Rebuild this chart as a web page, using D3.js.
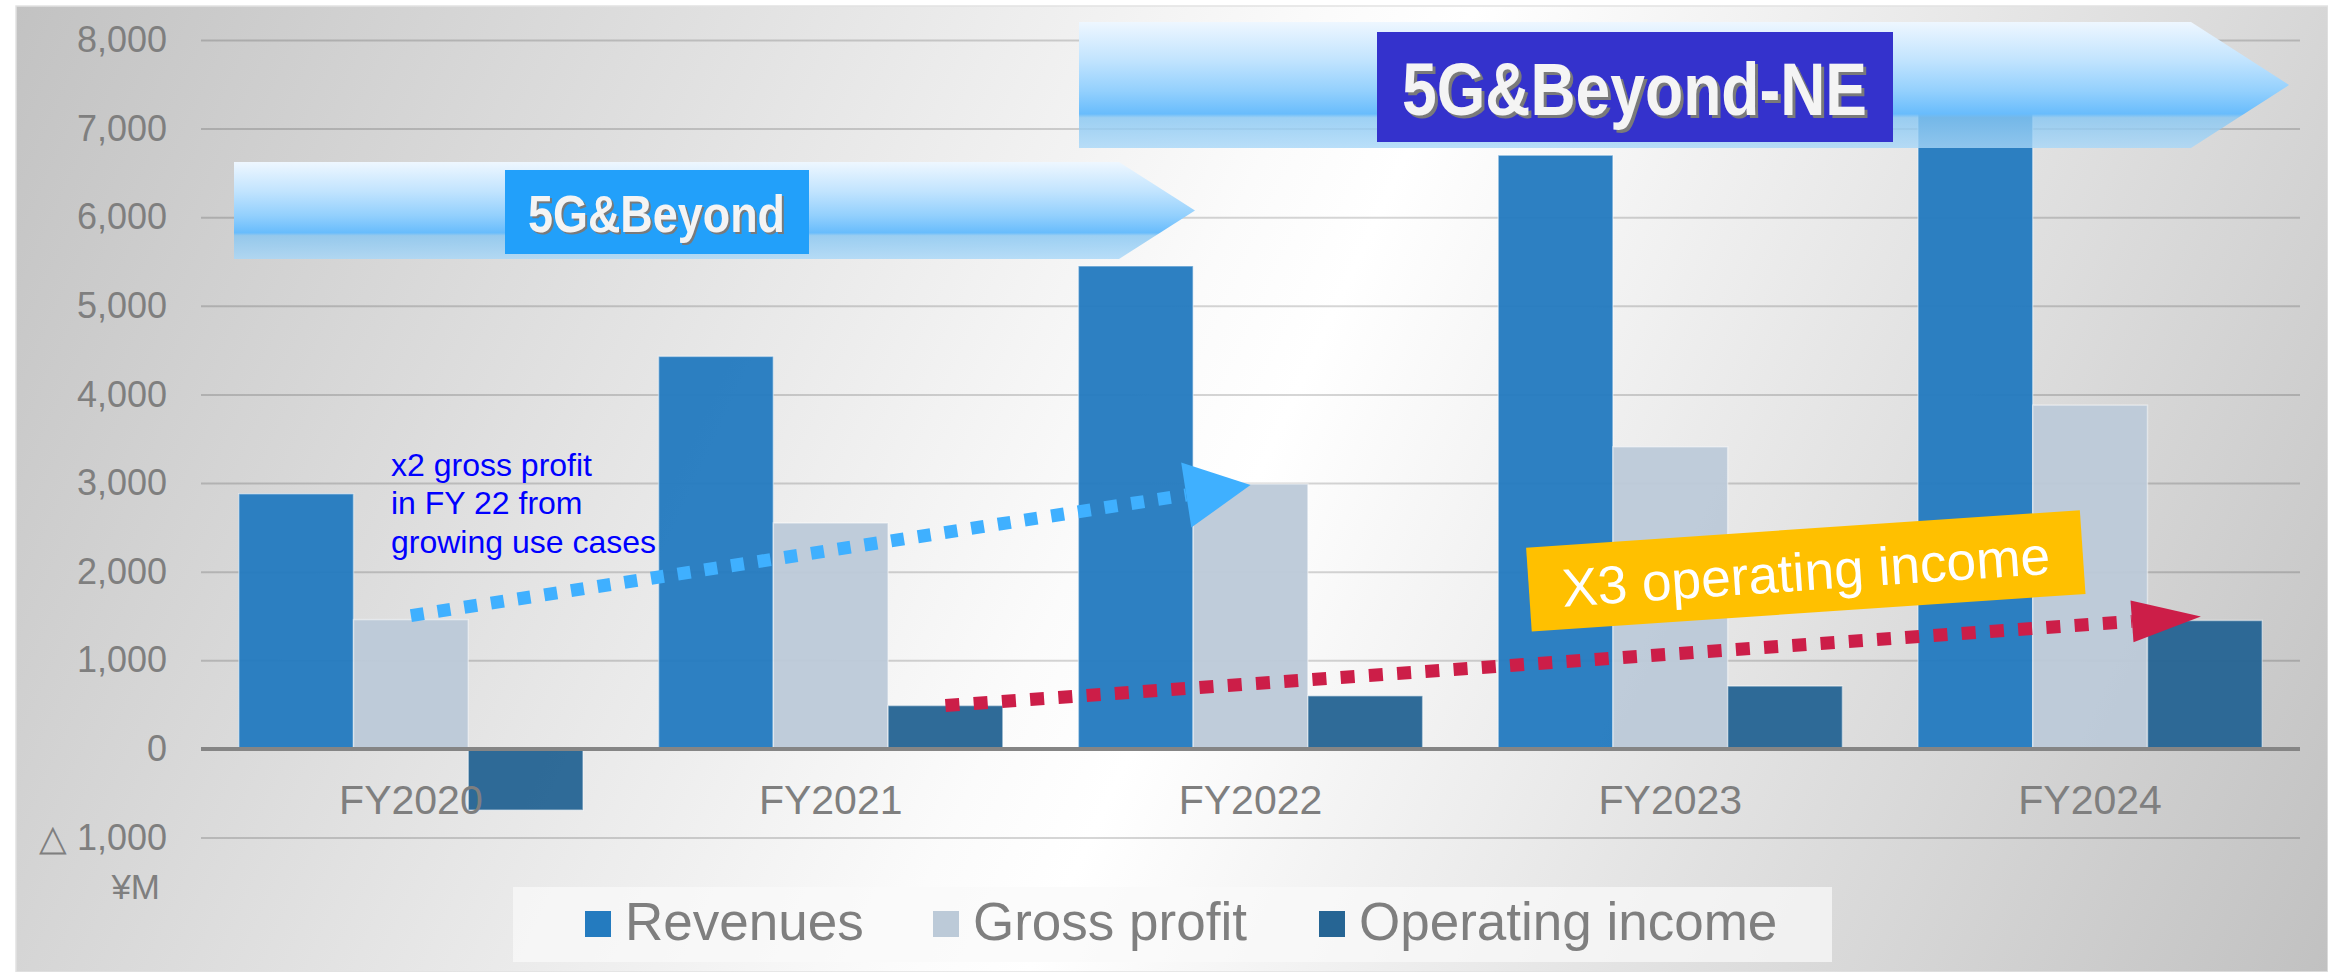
<!DOCTYPE html>
<html>
<head>
<meta charset="utf-8">
<script src="https://cdn.jsdelivr.net/npm/d3@7"></script>
<style>
  body { margin: 0; background: #fff; }
  svg { display: block; font-family: "Liberation Sans", Arial, sans-serif; }
</style>
</head>
<body>
<div id="chart"></div>
<script>
'use strict';

// values, in ¥M
var years = ["FY2020", "FY2021", "FY2022", "FY2023", "FY2024"];
var revenues = [2880, 4430, 5450, 6700, 7200];
var grossProfit = [1460, 2550, 2990, 3410, 3880];
var operatingIncome = [-690, 490, 600, 710, 1450];

var seriesNames = ["Revenues", "Gross profit", "Operating income"];
var seriesColors = ["#247bbf", "#bccad8", "#266594"];
var yTicks = [-1000, 0, 1000, 2000, 3000, 4000, 5000, 6000, 7000, 8000];

var width = 2328, height = 972;
var plotLeft = 201, plotRight = 2300;

var table = years.map(function(yr, i) {
    return { year: yr, values: [revenues[i], grossProfit[i], operatingIncome[i]] };
});

let svg = d3.select("#chart").append("svg")
    .attr("width", width)
    .attr("height", height);
let defs = svg.append("defs");

// slide background, gray at the sides and white in the middle
let bg = defs.append("linearGradient")
    .attr("id", "bgGrad")
    .attr("gradientUnits", "userSpaceOnUse")
    .attr("x1", 45).attr("y1", -60)
    .attr("x2", 2405).attr("y2", 1032);
bg.append("stop").attr("offset", "0%").attr("stop-color", "#c2c2c2");
bg.append("stop").attr("offset", "46%").attr("stop-color", "#fbfbfb");
bg.append("stop").attr("offset", "51%").attr("stop-color", "#ffffff");
bg.append("stop").attr("offset", "100%").attr("stop-color", "#bcbcbc");

// the two big chevrons
let chev = defs.append("linearGradient")
    .attr("id", "chevGrad")
    .attr("x1", 0).attr("y1", 0).attr("x2", 0).attr("y2", 1);
[["0%", "#eef7ff", 1], ["30%", "#c2e4fe", 1], ["55%", "#93d0fd", 1], ["73%", "#68bcfc", 1],
 ["76%", "#86c6f2", 0.8], ["100%", "#a8d7f8", 0.8]].forEach(function(s) {
    chev.append("stop").attr("offset", s[0]).attr("stop-color", s[1]).attr("stop-opacity", s[2]);
});

svg.append("rect")
    .attr("x", 16).attr("y", 6)
    .attr("width", width - 16).attr("height", height - 6)
    .attr("fill", "url(#bgGrad)")
    .attr("stroke", "#e2e2e2")
    .attr("stroke-width", 1.5);

// scales
let y = d3.scaleLinear().domain([-1000, 8000]).range([837.6, 40]);
let x0 = d3.scaleBand().domain(years).range([plotLeft, plotRight])
    .paddingInner(0.18).paddingOuter(0.09);
let x1 = d3.scaleBand().domain(seriesNames).range([0, x0.bandwidth()]);
let color = d3.scaleOrdinal().domain(seriesNames).range(seriesColors);

// gridlines
let grid = svg.append("g")
    .attr("transform", "translate(" + plotLeft + ",0)")
    .call(d3.axisLeft(y).tickValues(yTicks).tickSize(-(plotRight - plotLeft)).tickFormat(""));
grid.select(".domain").remove();
grid.selectAll("line")
    .attr("stroke", "#000")
    .attr("stroke-opacity", 0.16)
    .attr("stroke-width", 2);

// bars
let groups = svg.append("g").selectAll("g")
    .data(table)
    .join("g")
    .attr("transform", d => "translate(" + x0(d.year) + ",0)");

groups.selectAll("rect")
    .data(d => d.values.map((v, j) => ({ key: seriesNames[j], value: v })))
    .join("rect")
    .attr("x", d => x1(d.key))
    .attr("width", x1.bandwidth())
    .attr("y", d => y(Math.max(0, d.value)))
    .attr("height", d => Math.abs(y(d.value) - y(0)))
    .attr("fill", d => color(d.key))
    .attr("fill-opacity", 0.96)
    .attr("stroke", "rgba(255,255,255,0.45)")
    .attr("stroke-width", 1.5);

// zero line
svg.append("line")
    .attr("x1", plotLeft).attr("x2", plotRight)
    .attr("y1", y(0)).attr("y2", y(0))
    .attr("stroke", "#858585")
    .attr("stroke-width", 4);

// category labels
let xAxis = svg.append("g")
    .attr("transform", "translate(0," + y(0) + ")")
    .call(d3.axisBottom(x0).tickSize(0).tickPadding(36));
xAxis.select(".domain").remove();
xAxis.selectAll("text")
    .attr("font-family", "Liberation Sans, Arial, sans-serif")
    .attr("font-size", 41)
    .attr("fill", "#7f7f7f");

// value labels, negatives shown with a triangle as on the slide
let fmt = d3.format(",");
let yAxis = svg.append("g")
    .attr("transform", "translate(" + plotLeft + ",0)")
    .call(d3.axisLeft(y).tickValues(yTicks).tickSize(0).tickPadding(34)
        .tickFormat(d => d < 0 ? "\u25b3 " + fmt(-d) : fmt(d)));
yAxis.select(".domain").remove();
yAxis.selectAll("text")
    .attr("font-family", "Liberation Sans, Arial, sans-serif")
    .attr("font-size", 36)
    .attr("fill", "#7f7f7f");

svg.append("text")
    .attr("x", 160).attr("y", 899)
    .attr("text-anchor", "end")
    .attr("font-size", 35)
    .attr("fill", "#7f7f7f")
    .text("\u00a5M");

// chevron shapes
function chevron(left, shoulder, tip, top, bottom) {
    let mid = (top + bottom) / 2;
    return "M" + left + "," + top + "L" + shoulder + "," + top + "L" + tip + "," + mid +
        "L" + shoulder + "," + bottom + "L" + left + "," + bottom + "Z";
}

function chevronLabel(box, label, fill, size, baseline, textX, textW, shadow) {
    svg.append("rect")
        .attr("x", box[0]).attr("y", box[1])
        .attr("width", box[2]).attr("height", box[3])
        .attr("fill", fill);
    svg.append("text")
        .attr("x", textX + shadow).attr("y", baseline + shadow)
        .attr("font-size", size).attr("font-weight", "bold")
        .attr("textLength", textW).attr("lengthAdjust", "spacingAndGlyphs")
        .attr("fill", "#7a7a7a")
        .text(label);
    svg.append("text")
        .attr("x", textX).attr("y", baseline)
        .attr("font-size", size).attr("font-weight", "bold")
        .attr("textLength", textW).attr("lengthAdjust", "spacingAndGlyphs")
        .attr("fill", "#f4f4f4")
        .text(label);
}

svg.append("path")
    .attr("d", chevron(234, 1119, 1195, 162, 259))
    .attr("fill", "url(#chevGrad)");
chevronLabel([505, 170, 304, 84], "5G&Beyond", "#22a0fa", 52, 231.7, 528, 257, 2);

svg.append("path")
    .attr("d", chevron(1079, 2191, 2289, 22, 148))
    .attr("fill", "url(#chevGrad)");
chevronLabel([1377, 32, 516, 110], "5G&Beyond-NE", "#3432cc", 74, 115, 1402, 465, 3);

// gross profit note
let note = svg.append("text")
    .attr("font-size", 32)
    .attr("fill", "#0000ff");
["x2 gross profit", "in FY 22 from", "growing use cases"].forEach(function(line, i) {
    note.append("tspan")
        .attr("x", 391)
        .attr("y", 475.7 + i * 38.4)
        .text(line);
});

// dotted trend arrows
function dottedArrow(start, tip, headLen, headHalf, col, dash) {
    let dx = tip[0] - start[0], dy = tip[1] - start[1];
    let len = Math.sqrt(dx * dx + dy * dy);
    let ux = dx / len, uy = dy / len;
    let bx = tip[0] - ux * headLen, by = tip[1] - uy * headLen;
    svg.append("line")
        .attr("x1", start[0]).attr("y1", start[1])
        .attr("x2", bx).attr("y2", by)
        .attr("stroke", col)
        .attr("stroke-width", 13)
        .attr("stroke-dasharray", dash);
    svg.append("polygon")
        .attr("points", [[tip[0], tip[1]],
            [bx - uy * headHalf, by + ux * headHalf],
            [bx + uy * headHalf, by - ux * headHalf]].map(p => p.join(",")).join(" "))
        .attr("fill", col);
}

let gpMid = x1("Gross profit") + x1.bandwidth() / 2;
let opMid = x1("Operating income") + x1.bandwidth() / 2;

dottedArrow([x0(years[0]) + gpMid, y(grossProfit[0]) - 4],
    [x0(years[2]) + gpMid, y(grossProfit[2]) + 1],
    65, 33, "#3fb0ff", "13 14");

dottedArrow([x0(years[1]) + opMid, y(operatingIncome[1])],
    [x0(years[4]) + opMid - 4, y(operatingIncome[4]) - 4],
    69, 21, "#cc1e48", "14 14.3");

// yellow callout
let callout = svg.append("g")
    .attr("transform", "translate(1805.8,570.8) rotate(-3.87)");
callout.append("rect")
    .attr("x", -277.5).attr("y", -42)
    .attr("width", 555).attr("height", 84)
    .attr("fill", "#ffc000");
callout.append("text")
    .attr("x", 0).attr("y", 19.5)
    .attr("text-anchor", "middle")
    .attr("font-size", 53.5)
    .attr("textLength", 489).attr("lengthAdjust", "spacingAndGlyphs")
    .attr("fill", "#ffffff")
    .text("X3 operating income");

// legend
svg.append("rect")
    .attr("x", 513).attr("y", 887)
    .attr("width", 1319).attr("height", 75)
    .attr("fill", "#fafafa")
    .attr("fill-opacity", 0.72);

var legendX = [585, 933, 1319];
seriesNames.forEach(function(name, i) {
    svg.append("rect")
        .attr("x", legendX[i]).attr("y", 911)
        .attr("width", 26).attr("height", 26)
        .attr("fill", color(name));
    svg.append("text")
        .attr("x", legendX[i] + 40).attr("y", 940)
        .attr("font-size", 53)
        .attr("fill", "#7f7f7f")
        .text(name);
});
</script>
</body>
</html>
